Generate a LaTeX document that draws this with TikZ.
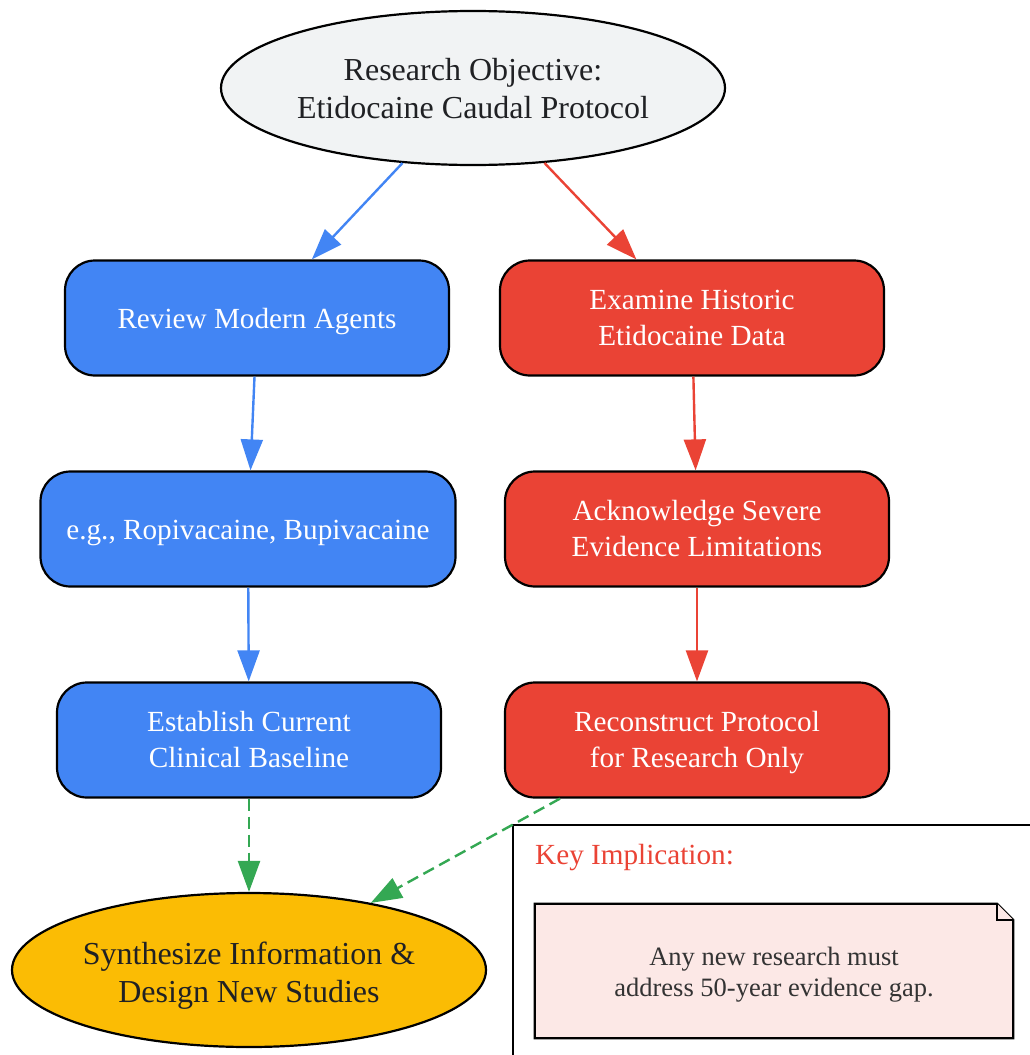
\documentclass[tikz,border=0pt]{standalone}
\usepackage{fontspec}
\setmainfont{Liberation Serif}
\usetikzlibrary{shapes.geometric,arrows.meta,calc,backgrounds}
\definecolor{gbg}{HTML}{F1F3F4}
\definecolor{gblue}{HTML}{4285F4}
\definecolor{gred}{HTML}{EA4335}
\definecolor{gyellow}{HTML}{FBBC04}
\definecolor{ggreen}{HTML}{34A853}
\definecolor{notefill}{HTML}{FCE8E6}
\definecolor{dtext}{HTML}{202124}
\newcommand{\ntx}[2]{\raisebox{-#1pt}[\height][\depth]{\begin{tabular}{@{}c@{}}#2\end{tabular}}}
\begin{document}
\begin{tikzpicture}[x=1pt,y=-1pt,
  boxfont/.style={font=\fontsize{29.2}{36}\selectfont},
  ovalfont/.style={font=\fontsize{32}{38}\selectfont},
  box/.style={boxfont,rectangle,rounded corners=30pt,draw=black,line width=2.2pt,minimum width=384pt,minimum height=115pt,inner sep=0pt,text=white},
  oval/.style={ovalfont,ellipse,draw=black,line width=2.2pt,minimum height=154pt,inner sep=0pt,text=dtext},
  arr/.style={line width=2.4pt,-{Triangle[length=31pt,width=22pt]}},
  darr/.style={arr,ggreen,dash pattern=on 12pt off 6pt}
]
\useasboundingbox (0,0) rectangle (1029,1055);

% cluster frame
\draw[line width=2.2pt] (513,825) rectangle (1045,1075);
\node[boxfont,anchor=base west,text=gred,inner sep=0pt] (kt) at (535,864) {Key Implication:};

\node[oval,fill=gbg,minimum width=504pt] (obj) at (473,88) {\ntx{4}{Research Objective:\\Etidocaine Caudal Protocol}};
\node[box,fill=gblue] (b1) at (257,318) {\ntx{3.5}{Review Modern Agents}};
\node[box,fill=gred] (r1) at (692,318) {\ntx{2.5}{Examine Historic\\Etidocaine Data}};
\node[box,fill=gblue,minimum width=415pt] (b2) at (248,529) {\ntx{3}{e.g., Ropivacaine, Bupivacaine}};
\node[box,fill=gred] (r2) at (697,529) {\ntx{2.5}{Acknowledge Severe\\Evidence Limitations}};
\node[box,fill=gblue] (b3) at (249,740) {\ntx{2.5}{Establish Current\\Clinical Baseline}};
\node[box,fill=gred] (r3) at (697,740) {\ntx{2.5}{Reconstruct Protocol\\for Research Only}};
\node[oval,fill=gyellow,minimum width=474pt] (syn) at (249,970) {\ntx{5.5}{Synthesize Information \&\\Design New Studies}};

\node[font=\fontsize{26.5}{31}\selectfont,text=black!80,minimum width=478pt,minimum height=134pt,inner sep=0pt] (note) at (774,971) {\ntx{3.3}{Any new research must\\address 50-year evidence gap.}};
\begin{scope}[on background layer]
\draw[line width=2.2pt,fill=notefill,line join=miter] (note.north west) -- ($(note.north east)+(-16,0)$) -- ($(note.north east)+(0,16)$) -- (note.south east) -- (note.south west) -- cycle;
\draw[line width=2.2pt,fill=notefill] ($(note.north east)+(-16,0)$) -- ($(note.north east)+(-16,16)$) -- ($(note.north east)+(0,16)$);
\end{scope}

\draw[arr,gblue] (obj) -- (b1);
\draw[arr,gred] (obj) -- (r1);
\draw[arr,gblue] (b1) -- (b2);
\draw[arr,gred] (r1) -- (r2);
\draw[arr,gblue] (b2) -- (b3);
\draw[arr,gred] (r2) -- (r3);
\draw[darr] (b3) -- (syn);
\draw[darr] ($(r3.south)+(-137,0)$) -- (syn);
\end{tikzpicture}
\end{document}
